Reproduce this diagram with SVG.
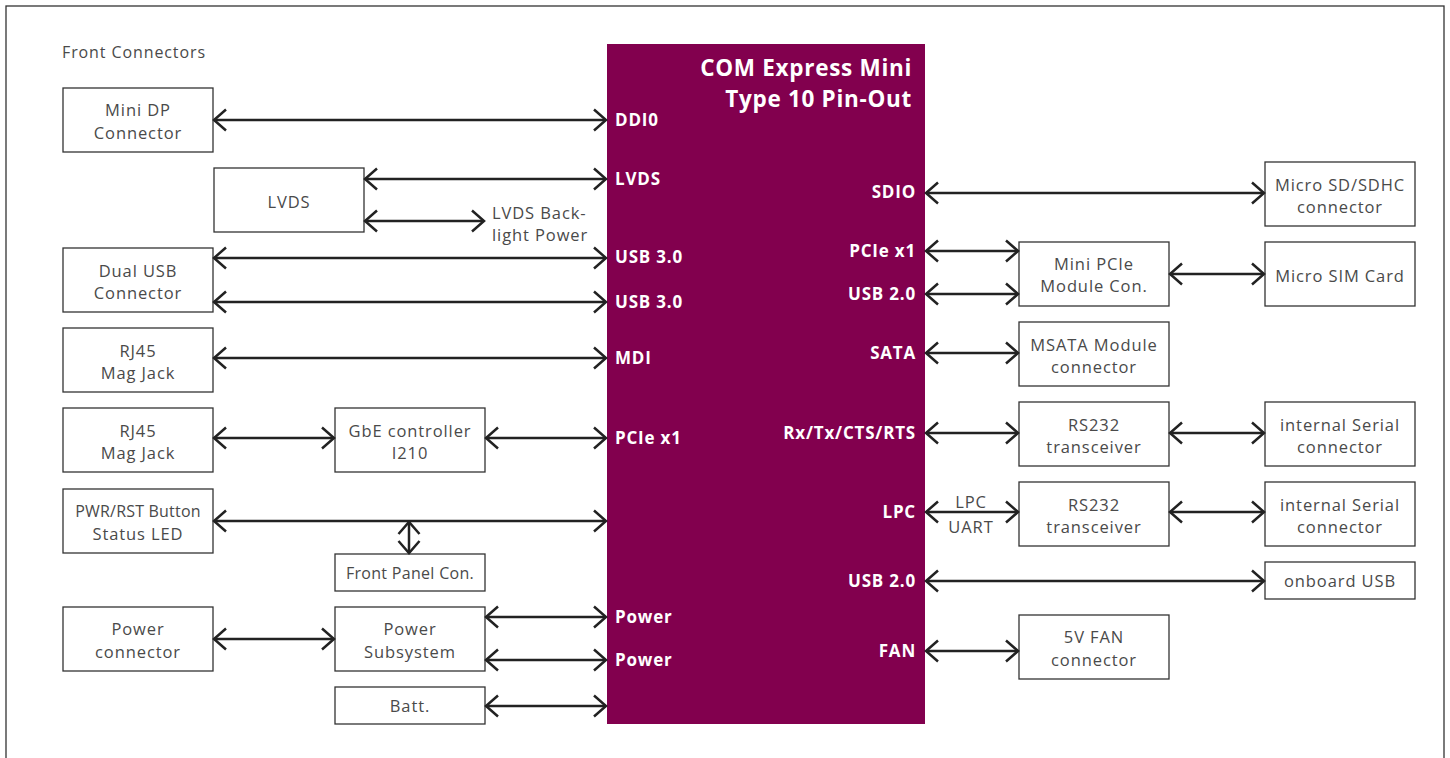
<svg xmlns="http://www.w3.org/2000/svg" width="1450" height="758" viewBox="0 0 1450 758">
<style>
.box{fill:#fff;stroke:#333;stroke-width:1.3}
.t{font-family:"Open Sans",Lato,sans-serif;font-size:16.5px;letter-spacing:0.9px;fill:#4a4a4a;text-anchor:middle}
.pl{font-family:"Open Sans",Lato,sans-serif;font-size:17px;letter-spacing:0.8px;font-weight:bold;fill:#fff}
.pr{font-family:"Open Sans",Lato,sans-serif;font-size:17px;letter-spacing:0.8px;font-weight:bold;fill:#fff;text-anchor:end}
.ttl{font-family:"Open Sans",Lato,sans-serif;font-size:22.5px;letter-spacing:0.7px;font-weight:bold;fill:#fff;text-anchor:end}
.c line{stroke:#222;stroke-width:2.5;marker-start:url(#a);marker-end:url(#a)}
</style>
<defs>
<marker id="a" markerUnits="userSpaceOnUse" markerWidth="18" markerHeight="26" refX="14" refY="12" orient="auto-start-reverse" viewBox="0 0 18 26">
<path d="M2,1.5 L14,12 L2,22.5" fill="none" stroke="#222" stroke-width="2.5"/>
</marker>
</defs>
<rect width="1450" height="758" fill="#fff"/>
<rect x="6" y="6" width="1438" height="780" fill="none" stroke="#333" stroke-width="1.3"/>
<text x="62" y="58" class="t" style="text-anchor:start;font-size:16px">Front Connectors</text>

<g id="module">
<rect x="607" y="44" width="318" height="680" fill="#82004e"/>
<text x="912" y="76" class="ttl">COM Express Mini</text>
<text x="912" y="107" class="ttl">Type 10 Pin-Out</text>
<text x="615" y="126" class="pl">DDI0</text>
<text x="615" y="185" class="pl">LVDS</text>
<text x="615" y="263" class="pl">USB 3.0</text>
<text x="615" y="308" class="pl">USB 3.0</text>
<text x="615" y="364" class="pl">MDI</text>
<text x="615" y="444" class="pl">PCIe x1</text>
<text x="615" y="623" class="pl">Power</text>
<text x="615" y="666" class="pl">Power</text>
<text x="916" y="198" class="pr">SDIO</text>
<text x="916" y="257" class="pr">PCIe x1</text>
<text x="916" y="300" class="pr">USB 2.0</text>
<text x="916" y="359" class="pr">SATA</text>
<text x="916" y="439" class="pr">Rx/Tx/CTS/RTS</text>
<text x="916" y="518" class="pr">LPC</text>
<text x="916" y="587" class="pr">USB 2.0</text>
<text x="916" y="657" class="pr">FAN</text>
</g>

<g id="minidp"><rect class="box" x="63" y="88" width="150" height="64"/><text class="t" x="138" y="116">Mini DP</text><text class="t" x="138" y="139">Connector</text></g>
<g id="lvds"><rect class="box" x="214" y="168" width="150" height="64"/><text class="t" x="289" y="208">LVDS</text></g>
<g id="dualusb"><rect class="box" x="63" y="248" width="150" height="64"/><text class="t" x="138" y="277">Dual USB</text><text class="t" x="138" y="299">Connector</text></g>
<g id="rj45a"><rect class="box" x="63" y="328" width="150" height="64"/><text class="t" x="138" y="357">RJ45</text><text class="t" x="138" y="379">Mag Jack</text></g>
<g id="rj45b"><rect class="box" x="63" y="408" width="150" height="64"/><text class="t" x="138" y="437">RJ45</text><text class="t" x="138" y="459">Mag Jack</text></g>
<g id="gbe"><rect class="box" x="335" y="408" width="150" height="64"/><text class="t" x="410" y="437">GbE controller</text><text class="t" x="410" y="459">I210</text></g>
<g id="pwrrst"><rect class="box" x="63" y="489" width="150" height="64"/><text class="t" x="138" y="517" style="font-size:16px;letter-spacing:0.2px">PWR/RST Button</text><text class="t" x="138" y="540">Status LED</text></g>
<g id="frontpanel"><rect class="box" x="335" y="554" width="150" height="37"/><text class="t" x="410" y="579" style="font-size:16px;letter-spacing:0.3px">Front Panel Con.</text></g>
<g id="pwrconn"><rect class="box" x="63" y="607" width="150" height="64"/><text class="t" x="138" y="635">Power</text><text class="t" x="138" y="658">connector</text></g>
<g id="pwrsub"><rect class="box" x="335" y="607" width="150" height="64"/><text class="t" x="410" y="635">Power</text><text class="t" x="410" y="658">Subsystem</text></g>
<g id="batt"><rect class="box" x="335" y="687" width="150" height="37"/><text class="t" x="410" y="712">Batt.</text></g>

<g id="microsd"><rect class="box" x="1265" y="162" width="150" height="64"/><text class="t" x="1340" y="191">Micro SD/SDHC</text><text class="t" x="1340" y="213">connector</text></g>
<g id="minipcie"><rect class="box" x="1019" y="242" width="150" height="64"/><text class="t" x="1094" y="270">Mini PCIe</text><text class="t" x="1094" y="292">Module Con.</text></g>
<g id="microsim"><rect class="box" x="1265" y="242" width="150" height="64"/><text class="t" x="1340" y="282">Micro SIM Card</text></g>
<g id="msata"><rect class="box" x="1019" y="322" width="150" height="64"/><text class="t" x="1094" y="351">MSATA Module</text><text class="t" x="1094" y="373">connector</text></g>
<g id="rs232a"><rect class="box" x="1019" y="402" width="150" height="64"/><text class="t" x="1094" y="431">RS232</text><text class="t" x="1094" y="453">transceiver</text></g>
<g id="serA"><rect class="box" x="1265" y="402" width="150" height="64"/><text class="t" x="1340" y="431">internal Serial</text><text class="t" x="1340" y="453">connector</text></g>
<g id="rs232b"><rect class="box" x="1019" y="482" width="150" height="64"/><text class="t" x="1094" y="511">RS232</text><text class="t" x="1094" y="533">transceiver</text></g>
<g id="serB"><rect class="box" x="1265" y="482" width="150" height="64"/><text class="t" x="1340" y="511">internal Serial</text><text class="t" x="1340" y="533">connector</text></g>
<g id="onboardusb"><rect class="box" x="1265" y="562" width="150" height="37"/><text class="t" x="1340" y="587">onboard USB</text></g>
<g id="fan"><rect class="box" x="1019" y="615" width="150" height="64"/><text class="t" x="1094" y="643">5V FAN</text><text class="t" x="1094" y="666">connector</text></g>

<g id="connectors" class="c">
<line x1="214" y1="120" x2="606" y2="120"/>
<line x1="365" y1="179" x2="606" y2="179"/>
<line x1="365" y1="221" x2="484" y2="221"/>
<line x1="214" y1="258" x2="606" y2="258"/>
<line x1="214" y1="302" x2="606" y2="302"/>
<line x1="214" y1="358" x2="606" y2="358"/>
<line x1="214" y1="438" x2="334" y2="438"/>
<line x1="486" y1="438" x2="606" y2="438"/>
<line x1="214" y1="521" x2="606" y2="521"/>
<line x1="409" y1="522" x2="409" y2="553"/>
<line x1="214" y1="639" x2="334" y2="639"/>
<line x1="486" y1="617" x2="606" y2="617"/>
<line x1="486" y1="660" x2="606" y2="660"/>
<line x1="486" y1="706" x2="606" y2="706"/>
<line x1="926" y1="193" x2="1264" y2="193"/>
<line x1="926" y1="251" x2="1018" y2="251"/>
<line x1="926" y1="294" x2="1018" y2="294"/>
<line x1="1170" y1="274" x2="1264" y2="274"/>
<line x1="926" y1="353" x2="1018" y2="353"/>
<line x1="926" y1="433" x2="1018" y2="433"/>
<line x1="1170" y1="433" x2="1264" y2="433"/>
<line x1="926" y1="512" x2="1018" y2="512"/>
<line x1="1170" y1="512" x2="1264" y2="512"/>
<line x1="926" y1="581" x2="1264" y2="581"/>
<line x1="926" y1="651" x2="1018" y2="651"/>
</g>
<text class="t" x="492" y="219" style="text-anchor:start">LVDS Back-</text>
<text class="t" x="492" y="241" style="text-anchor:start">light Power</text>
<text class="t" x="971" y="508">LPC</text>
<text class="t" x="971" y="533">UART</text>
</svg>
